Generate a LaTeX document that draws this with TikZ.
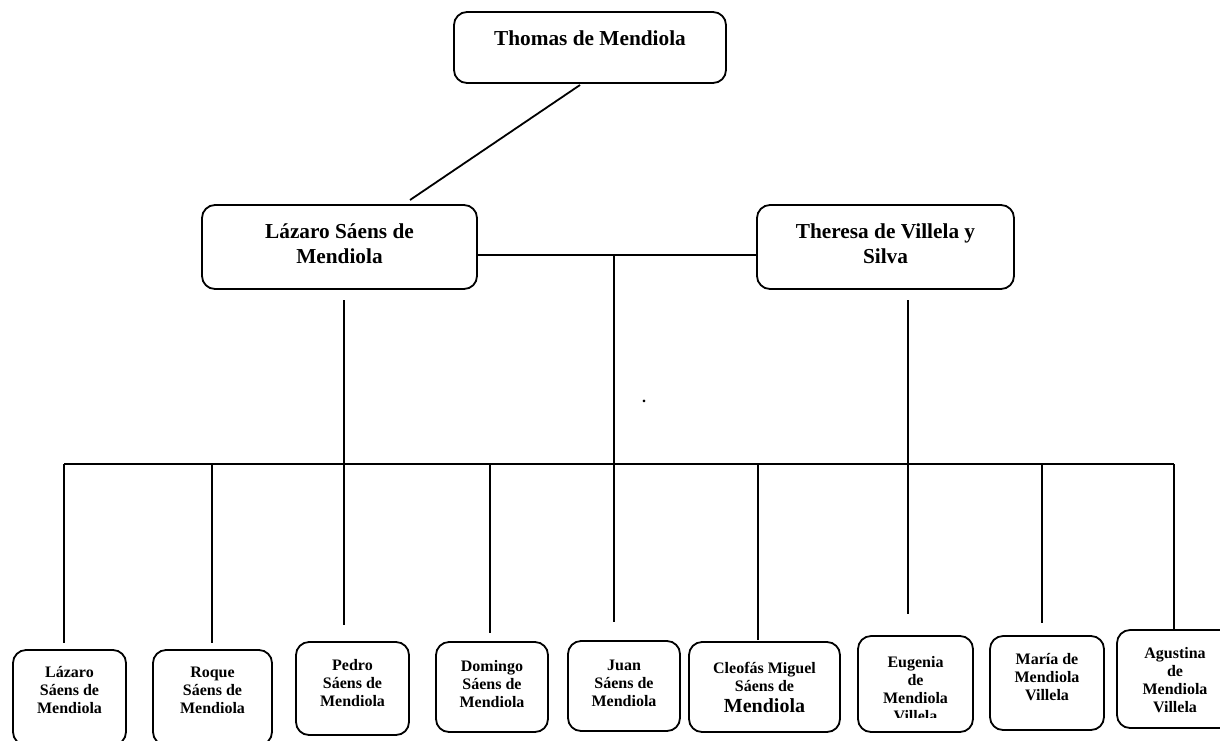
\documentclass[tikz,border=0pt]{standalone}
\usepackage{fontspec}
\setmainfont{Liberation Serif}
\begin{document}
\begin{tikzpicture}[x=1pt,y=-1pt,
  box/.style={draw, line width=1.8pt, rounded corners=13pt, inner sep=0pt},
  conn/.style={line width=1.8pt},
  big/.style={align=center, anchor=base, inner sep=0pt, font=\bfseries\fontsize{21.3}{25}\selectfont},
  small/.style={align=center, anchor=base, inner sep=0pt, font=\bfseries\fontsize{16}{18}\selectfont}]
\clip (0,0) rectangle (1220,740);
% boxes
\node[box, minimum width=272pt, minimum height=71pt] (top) at (590,47.5) {};
\node[box, minimum width=275pt, minimum height=84pt] (LP) at (339.5,247) {};
\node[box, minimum width=257pt, minimum height=84pt] (TP) at (885.5,247) {};
\node[box, minimum width=113pt, minimum height=95pt] (c1) at (69.5,697.5) {};
\node[box, minimum width=119pt, minimum height=95pt] (c2) at (212.5,697.5) {};
\node[box, minimum width=113pt, minimum height=93pt] (c3) at (352.5,688.5) {};
\node[box, minimum width=112pt, minimum height=90pt] (c4) at (492,687) {};
\node[box, minimum width=112pt, minimum height=90pt] (c5) at (624,686) {};
\node[box, minimum width=151pt, minimum height=90pt] (c6) at (764.5,687) {};
\node[box, minimum width=115pt, minimum height=96pt] (c7) at (915.5,684) {};
\node[box, minimum width=114pt, minimum height=94pt] (c8) at (1047,683) {};
\node[box, minimum width=118pt, minimum height=98pt] (c9) at (1176,679) {};
% texts (anchored at the baseline of the last line)
\node[big] (ttop) at (590,45) {Thomas de Mendiola};
\node[big] (tLP) at (339.5,263) {Lázaro Sáens de\\Mendiola};
\node[big] (tTP) at (885.5,263) {Theresa de Villela y\\Silva};
\node[small] (t1) at (69.5,713) {Lázaro\\Sáens de\\Mendiola};
\node[small] (t2) at (212.5,713) {Roque\\Sáens de\\Mendiola};
\node[small] (t3) at (352.5,706) {Pedro\\Sáens de\\Mendiola};
\node[small] (t4) at (492,707) {Domingo\\Sáens de\\Mendiola};
\node[small] (t5) at (624,706) {Juan\\Sáens de\\Mendiola};
\node[small] (t6) at (764.5,712) {Cleofás Miguel\\Sáens de\\[3pt]{\fontsize{20}{22}\selectfont Mendiola}};
\begin{scope}
\clip (850,600) rectangle (980,717.5);
\node[small] (t7) at (915.5,721) {Eugenia\\de\\Mendiola\\Villela};
\end{scope}
\node[small] (t8) at (1047,700) {María de\\Mendiola\\Villela};
\node[small] (t9) at (1175,712) {Agustina\\de\\Mendiola\\Villela};
\node[small] (dot) at (644,402) {.};
% connector coordinates
\coordinate (tA) at (580,85);
\coordinate (tB) at (410,200);
\coordinate (mid) at (614,255);
\coordinate (juanend) at (614,622);
\coordinate (lpa) at (344,300);
\coordinate (lpb) at (344,625);
\coordinate (tpa) at (908,300);
\coordinate (tpb) at (908,614);
\coordinate (hl) at (64,464);
\coordinate (hr) at (1174,464);
\coordinate (e1) at (64,643);
\coordinate (e2) at (212,643);
\coordinate (e4) at (490,633);
\coordinate (e6) at (758,640);
\coordinate (e8) at (1042,623);
\coordinate (e9) at (1174,629);
% connectors
\draw[conn] (tA) -- (tB);
\draw[conn] (LP.east |- mid) -- (TP.west |- mid);
\draw[conn] (mid) -- (juanend);
\draw[conn] (lpa) -- (lpb);
\draw[conn] (tpa) -- (tpb);
\draw[conn] (hl) -- (hr);
\draw[conn] (hl) -- (e1);
\draw[conn] (hl -| e2) -- (e2);
\draw[conn] (hl -| e4) -- (e4);
\draw[conn] (hl -| e6) -- (e6);
\draw[conn] (hl -| e8) -- (e8);
\draw[conn] (hr) -- (e9);
\end{tikzpicture}
\end{document}
